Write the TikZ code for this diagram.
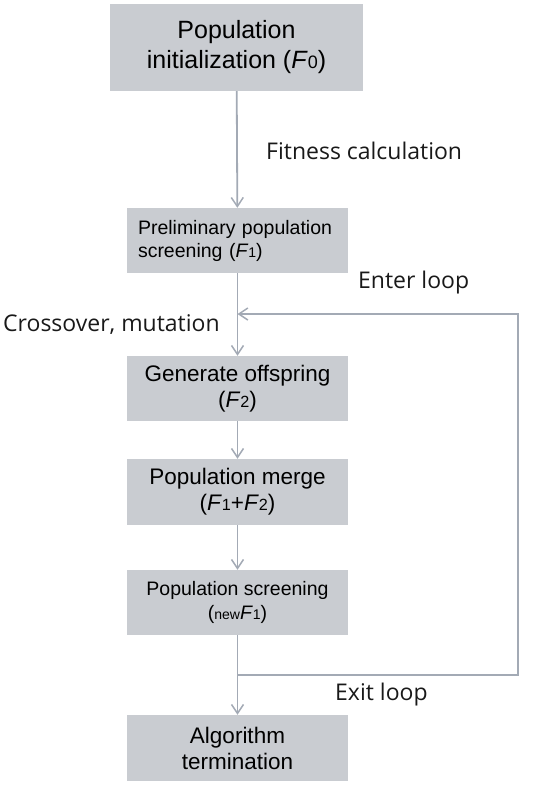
\documentclass[tikz,border=0pt]{standalone}
\usepackage{fontspec}
\usepackage{graphicx}
\setmainfont{Liberation Sans}
\newfontfamily\lblfont{Open Sans}
\usetikzlibrary{arrows.meta}
\definecolor{boxfill}{HTML}{C9CCD1}
\definecolor{linec}{HTML}{A3AAB5}
\newcommand{\smsub}[1]{\scalebox{0.72}{#1}}
\tikzset{
  box/.style={rectangle, fill=boxfill, inner sep=0pt, minimum width=221pt, minimum height=65pt, align=center, text=black},
  conn/.style={draw=linec, line width=1.8pt},
  arr/.style={conn, -{Straight Barb[length=9pt,width=12pt,line width=1.5pt]}},
  lbl/.style={anchor=west, inner sep=0pt, font=\lblfont\fontsize{23}{27}\selectfont, text=black!90}
}
\begin{document}
\begin{tikzpicture}[x=1pt,y=-1pt]
\useasboundingbox (0,0) rectangle (550,785);
\node[box, minimum width=253pt, minimum height=87pt, font=\fontsize{25}{30}\selectfont] (b0) at (236.5,47.5) {Population\\initialization (\textit{F}\smsub{0})};
\node[box, align=left, text width=199pt, font=\fontsize{19.5}{23}\selectfont] (b1) at (237.5,240.5) {Preliminary population\\screening (\textit{F}\smsub{1})};
\node[box, font=\fontsize{22.5}{26}\selectfont] (b2) at (237.5,388.5) {Generate offspring\\(\textit{F}\smsub{2})};
\node[box, minimum height=66pt, font=\fontsize{22.5}{26}\selectfont] (b3) at (237.5,492) {Population merge\\(\textit{F}\smsub{1}+\textit{F}\smsub{2})};
\node[box, font=\fontsize{19.5}{24}\selectfont] (b4) at (237.5,602.5) {Population screening\\(\smsub{new}\textit{F}\smsub{1})};
\node[box, minimum height=66pt, font=\fontsize{22.5}{26}\selectfont] (b5) at (237.5,748) {Algorithm\\termination};
\coordinate (jin) at (237.5,314);
\coordinate (jout) at (237.5,675);
\coordinate (rb) at (518,675);
\coordinate (rt) at (518,314);
\draw[arr] (b0) -- (b1);
\draw[conn] (b1) -- (jin);
\draw[arr] (jin) -- (b2);
\draw[arr] (b2) -- (b3);
\draw[arr] (b3) -- (b4);
\draw[conn] (b4) -- (jout);
\draw[arr] (jout) -- (b5);
\draw[arr] (jout) -- (rb) -- (rt) -- (jin);
\node[lbl] (lfit) at (266,151) {Fitness calculation};
\node[lbl] (lent) at (358,283) {Enter loop};
\node[lbl] (lcro) at (3,325) {Crossover, mutation};
\node[lbl] (lexi) at (335,695) {Exit loop};
\end{tikzpicture}
\end{document}
